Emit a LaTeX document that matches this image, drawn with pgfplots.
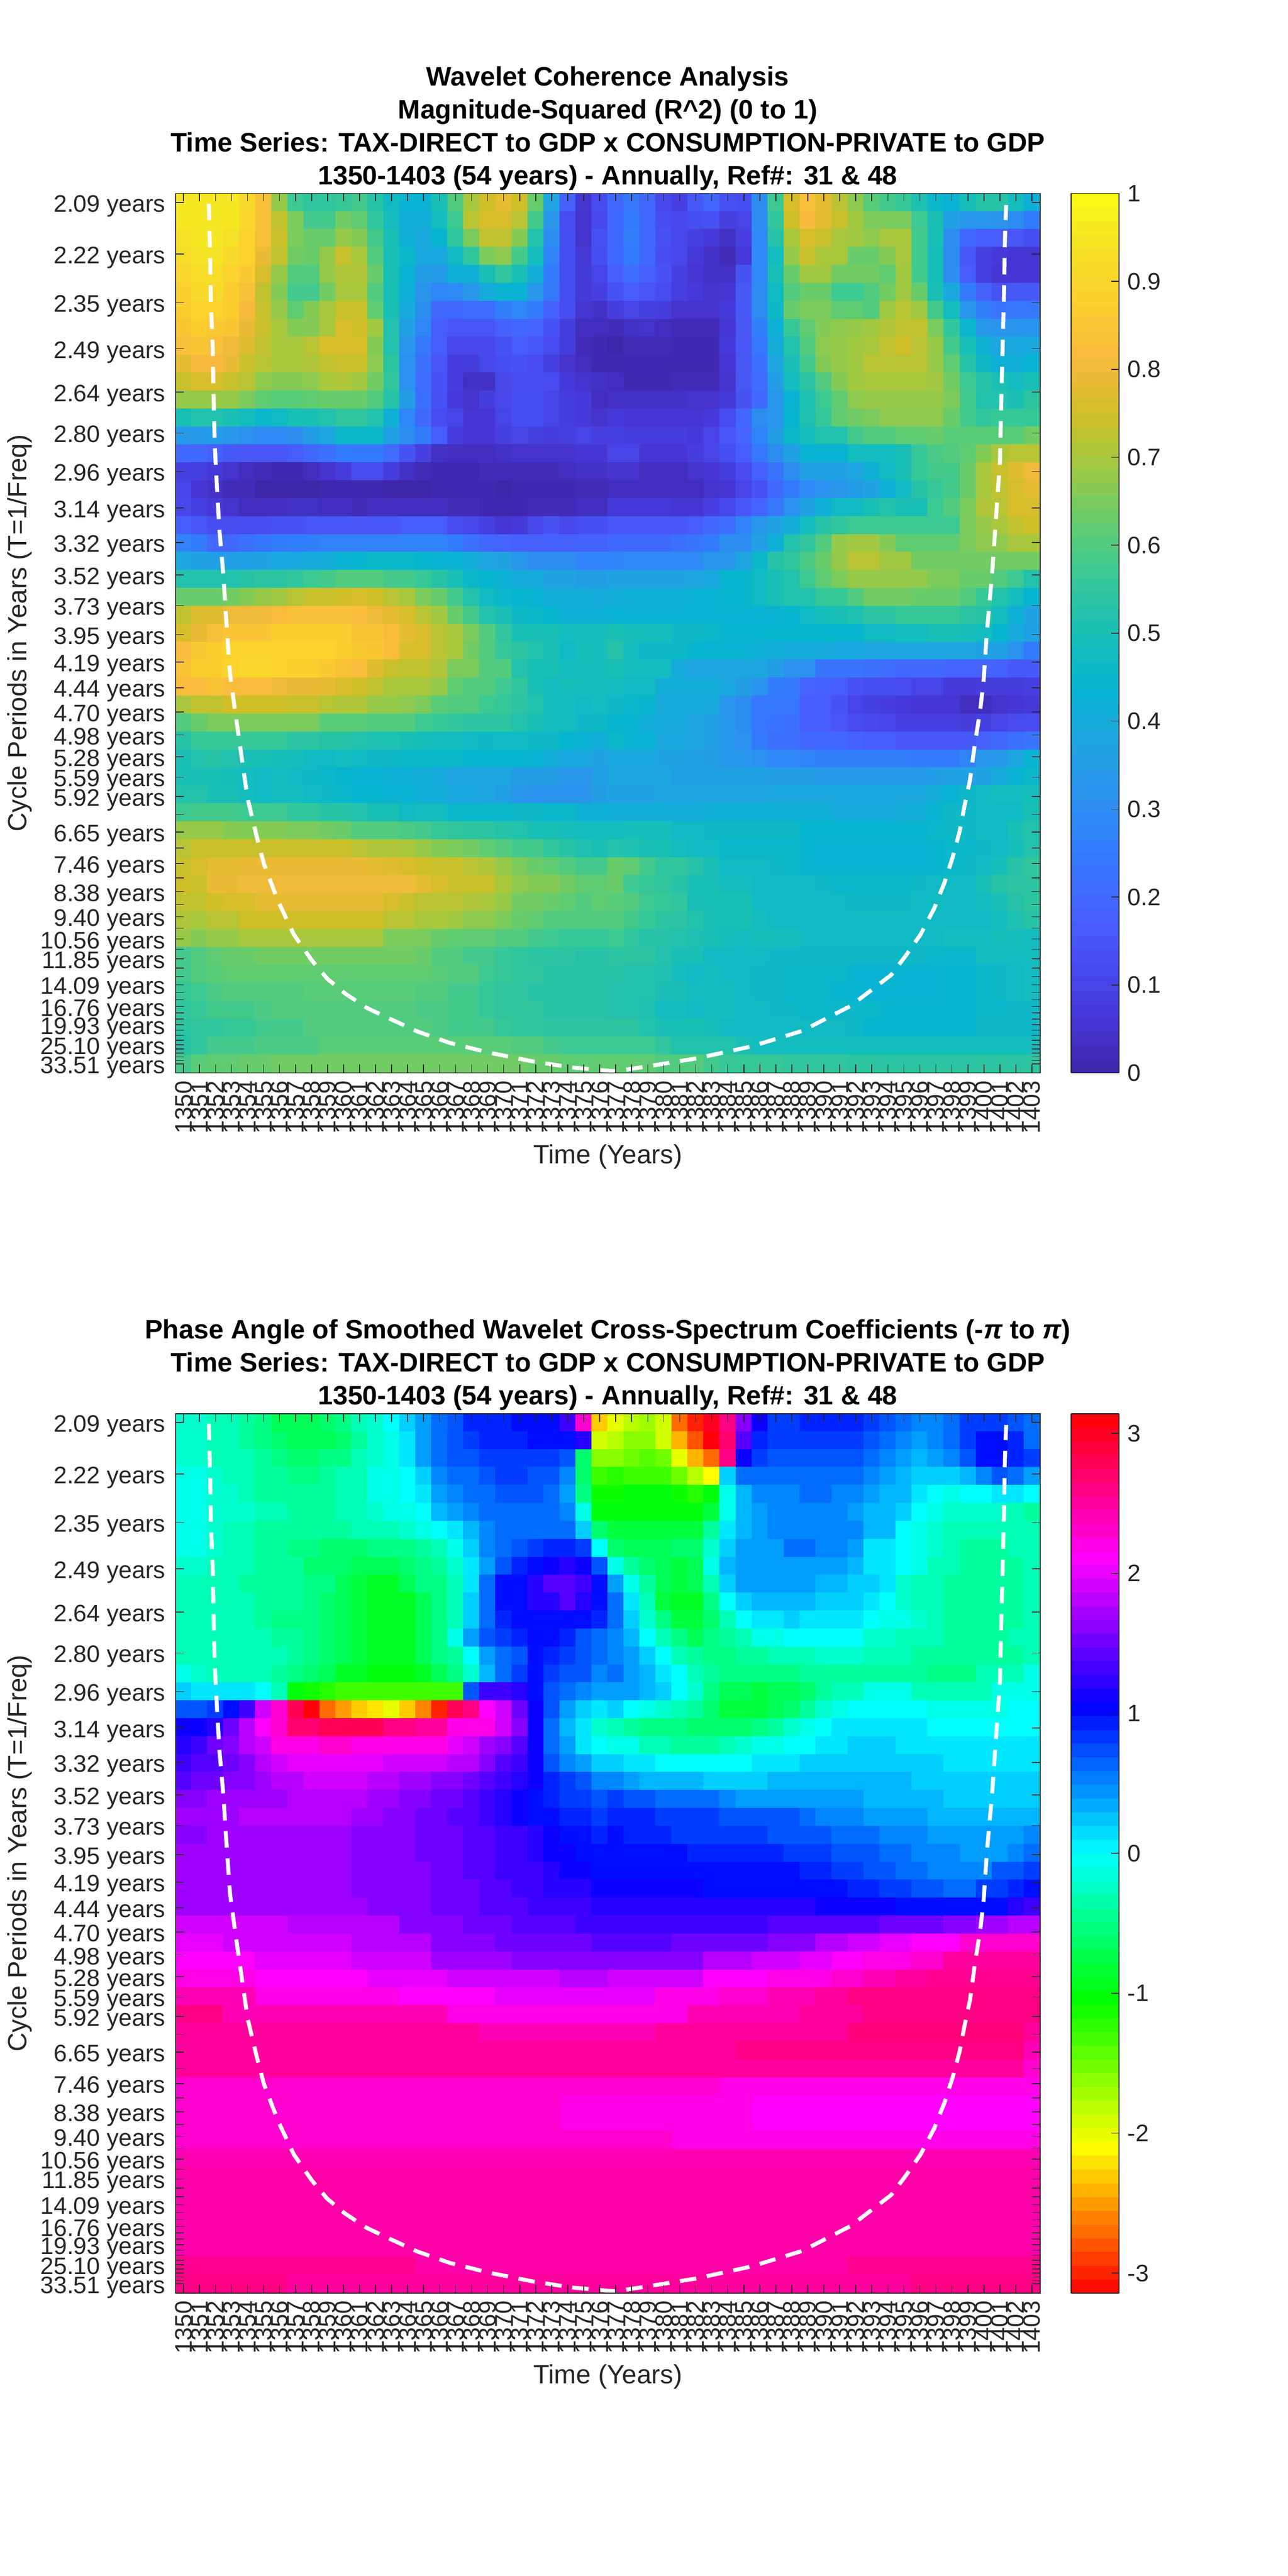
\documentclass[border=0pt]{standalone}
\usepackage{pgfplots}
\pgfplotsset{compat=1.18}
\usepackage{fontspec}
\setmainfont{Liberation Sans}
\definecolor{axc}{gray}{0.15}
\pgfplotsset{
 colormap={parulam}{rgb=(.2422,.1504,.6603) rgb=(.2706,.2147,.8364) rgb=(.2813,.3006,.9414) rgb=(.2699,.3892,.9906) rgb=(.1963,.4847,.9892) rgb=(.1687,.5703,.9359) rgb=(.1248,.6459,.8883) rgb=(.0297,.7082,.8163) rgb=(.0964,.75,.712) rgb=(.2161,.7843,.5923) rgb=(.3909,.8029,.4354) rgb=(.6174,.7876,.2612) rgb=(.8203,.7498,.1535) rgb=(.9728,.7298,.2394) rgb=(.9892,.8086,.1816) rgb=(.96,.89,.15) rgb=(.9769,.9839,.0805)},
 colormap={hsvm}{rgb=(1,0,0) rgb=(1,1,0) rgb=(0,1,0) rgb=(0,1,1) rgb=(0,0,1) rgb=(1,0,1) rgb=(1,0,0)},
 wave/.style={
  scale only axis,width=524.5pt,height=533.6pt,
  xmin=1349.5,xmax=1403.5,ymin=0.02518,ymax=0.48212,
  enlargelimits=false,axis on top,
  axis line style={axc,line width=0.6pt},
  tick style={axc,line width=0.5pt},
  major tick length=5pt,tick align=inside,
  xtick={1350,1351,...,1403},
  ytick={0.47746,0.45066,0.42537,0.40150,0.37896,0.35769,0.33762,0.31867,0.30078,0.28390,0.26797,0.25293,0.23873,0.22533,0.21268,0.20075,0.18948,0.17885,0.16881,0.15933,0.15039,0.14195,0.13398,0.12646,0.11937,0.11266,0.10634,0.10037,0.09474,0.08942,0.08441,0.07967,0.07520,0.07098,0.06699,0.06323,0.05968,0.05633,0.05317,0.05019,0.04737,0.04471,0.04220,0.03983,0.03760,0.03549,0.03350,0.03162,0.02984},
  yticklabels={2.09 years,2.22 years,2.35 years,2.49 years,2.64 years,2.80 years,2.96 years,3.14 years,3.32 years,3.52 years,3.73 years,3.95 years,4.19 years,4.44 years,4.70 years,4.98 years,5.28 years,5.59 years,5.92 years,{},6.65 years,{},7.46 years,{},8.38 years,{},9.40 years,{},10.56 years,{},11.85 years,{},{},14.09 years,{},{},16.76 years,{},{},19.93 years,{},{},{},25.10 years,{},{},{},{},33.51 years},
  tick label style={font=\fontsize{14.5}{14.5}\selectfont,text=axc},
  y tick label style={inner sep=0pt,xshift=-6pt,yshift=-2.2pt},
  x tick label style={rotate=90,anchor=east,inner sep=0pt,yshift=0pt,xshift=-4.5pt,/pgf/number format/1000 sep={},/pgf/number format/assume math mode=true},
  xlabel={Time (Years)},ylabel={Cycle Periods in Years (T=1/Freq)},
  label style={font=\fontsize{16}{16}\selectfont,text=axc},
  xlabel style={at={(axis description cs:0.5,-0.0955)},anchor=center},
  ylabel style={at={(axis description cs:-0.18,0.5)},anchor=center},
  title style={align=center,font=\bfseries\fontsize{16.2}{20}\selectfont,at={(axis description cs:0.5,1)},anchor=south,yshift=-7.5pt},
  colorbar sampled,
 },
 cb/.style={colorbar style={at={(1.0362,0)},anchor=south west,scale only axis,width=29pt,height=533.6pt,samples=65,
   axis line style={axc,line width=0.6pt},tick style={axc,line width=0.5pt},major tick length=4.6pt,tick align=inside,
   ytick pos=right,yticklabel pos=right,
   tick label style={font=\fontsize{14.5}{14.5}\selectfont,text=axc},
   y tick label style={inner sep=0pt,xshift=5pt}}},
}
\newcount\colc
\newcount\rowc
\gdef\accum{}
\newcommand\rowstart{\pgfmathparse{0.47746-\the\rowc*0.0093254}\xdef\ycur{\pgfmathresult}\global\colc=1350 \gdef\rowaccum{}}
\newcommand\addcell[1]{\xdef\rowaccum{\rowaccum (\the\colc,\ycur) [#1] }\global\advance\colc 1 }
\newcommand\rowfinish{\xdef\accum{\accum\rowaccum}\global\advance\rowc 1 }
\newcommand\DR[1]{\rowstart\foreach\vv in {#1}{\addcell{\vv}}\rowfinish}
\newcommand\DRL[1]{\rowstart\foreach\vv/\nn in {#1}{\foreach\ii in {1,...,\nn}{\addcell{\vv}}}\rowfinish}
% coherence (R^2, in hundredths), top row first
\DR{95,95,95,95,91,83,68,57,55,55,56,58,53,47,43,43,50,60,70,75,78,75,63,38,18,6,12,20,24,20,11,9,16,20,14,13,30,57,76,83,78,72,67,61,58,56,51,45,43,49,53,53,48,42}
\DR{95,95,95,95,90,83,73,65,58,58,64,62,55,48,41,41,48,57,72,76,76,72,58,33,12,5,11,20,25,20,13,11,13,14,9,10,30,55,75,81,78,74,69,65,65,65,57,50,36,33,33,32,30,25}
\DR{93,95,95,93,89,83,74,65,63,63,68,66,58,50,42,39,44,55,65,73,73,66,52,30,13,5,14,20,26,20,14,11,9,7,4,9,29,53,70,76,74,70,69,67,70,70,58,50,30,20,17,17,15,13}
\DR{92,94,94,91,89,79,73,64,63,68,74,70,60,50,45,39,39,47,55,65,67,58,48,27,13,7,13,20,25,20,13,11,7,4,2,7,29,48,68,74,70,70,63,63,66,70,58,49,30,16,9,7,6,6}
\DR{90,92,92,89,86,76,68,60,60,68,71,71,63,50,43,35,34,42,42,50,55,50,41,25,13,7,10,17,21,18,14,9,6,4,4,14,29,50,63,69,69,64,64,64,62,69,58,49,30,17,9,6,6,6}
\DR{88,91,91,87,83,73,66,58,58,64,70,70,60,50,42,32,28,29,33,40,43,43,33,24,13,7,9,14,17,15,12,9,7,5,6,16,30,47,60,63,63,57,57,60,64,69,63,50,39,25,18,14,16,16}
\DR{87,89,89,87,81,74,68,62,66,70,74,74,62,50,40,30,20,20,21,21,26,28,25,18,13,6,4,8,10,9,8,5,5,5,7,16,30,46,63,65,65,62,62,60,69,72,69,58,48,33,26,23,24,24}
\DR{85,87,86,85,79,74,70,66,66,70,76,75,69,52,36,28,17,15,15,15,18,20,19,14,8,3,3,2,4,5,3,2,2,2,6,15,26,42,56,62,66,67,68,69,71,73,73,65,55,45,33,32,32,32}
\DR{83,85,83,80,77,73,70,70,72,76,76,76,66,52,33,24,17,11,11,11,14,17,16,12,8,2,1,0,2,2,2,1,1,1,7,15,24,41,52,60,67,68,69,70,73,75,72,68,58,50,42,38,39,39}
\DR{78,81,81,79,74,72,70,70,71,73,74,74,67,54,31,22,15,8,8,11,13,14,12,9,5,3,1,1,1,1,1,1,1,1,6,15,22,38,50,58,66,68,69,72,72,72,72,68,62,53,46,42,41,43}
\DR{74,76,76,74,72,67,66,66,67,70,71,69,64,55,31,21,14,8,4,4,11,12,12,12,7,5,4,3,1,1,1,2,2,2,5,15,21,35,48,54,60,66,69,70,70,70,70,69,64,57,53,50,48,50}
\DR{68,68,68,68,65,62,61,61,62,63,63,63,60,53,35,22,14,7,5,8,11,13,13,10,8,7,3,4,4,4,4,4,5,5,7,14,20,33,43,51,57,62,67,68,68,68,68,68,65,58,52,52,50,54}
\DR{50,52,52,50,48,45,47,50,50,52,55,55,52,42,28,20,12,10,6,6,10,13,13,10,8,7,5,7,6,6,6,6,6,7,12,20,30,33,44,51,56,62,64,65,67,67,67,67,63,58,55,56,56,56}
\DR{34,34,35,33,31,29,29,30,35,38,45,45,45,36,30,25,17,8,6,6,9,10,9,8,9,10,9,9,8,8,8,8,7,10,15,19,27,35,45,49,52,52,58,60,60,62,62,63,61,61,61,61,61,64}
\DR{20,20,18,16,15,15,15,17,20,22,25,25,25,21,14,9,4,3,3,3,4,5,5,5,5,6,6,10,10,6,6,6,8,10,13,17,24,30,36,43,43,43,48,48,48,50,56,59,60,62,66,70,72,72}
\DR{9,9,7,5,3,2,1,1,3,5,8,12,12,8,4,2,1,1,1,2,2,2,2,2,3,4,4,5,5,3,3,3,5,6,8,12,18,23,30,36,36,36,38,42,47,50,56,58,58,63,70,74,77,80}
\DR{10,6,4,2,2,0,0,0,0,1,1,1,1,0,0,0,1,1,1,1,0,1,1,1,1,2,2,3,3,3,3,3,3,5,6,10,14,20,25,29,31,33,35,37,42,47,53,56,58,63,70,73,76,78}
\DR{11,9,7,5,3,3,3,4,4,3,3,2,3,3,3,3,3,2,2,1,1,1,2,2,2,3,3,7,7,7,7,6,6,9,11,15,19,24,31,37,42,47,47,50,52,50,50,57,60,65,71,72,76,76}
\DR{17,15,13,12,12,12,14,14,15,15,15,15,15,15,17,17,17,12,11,9,6,7,11,14,11,13,13,15,15,15,15,15,17,20,21,27,33,37,41,48,53,55,57,57,57,57,57,57,57,65,68,70,73,75}
\DR{27,25,20,20,22,24,25,26,26,27,27,27,27,27,27,27,27,25,22,20,19,18,18,18,18,18,18,20,20,20,20,22,23,25,30,30,36,42,52,55,60,68,69,69,66,62,62,62,62,65,67,67,70,70}
\DR{38,37,36,36,36,37,39,39,40,41,43,44,45,45,45,44,43,43,41,38,37,33,30,30,30,27,27,27,29,29,29,29,29,33,33,38,45,53,55,59,63,68,72,72,69,69,64,64,64,64,64,64,64,64}
\DR{52,52,52,52,53,54,54,55,57,58,60,60,60,58,58,56,53,50,45,44,42,40,40,37,37,35,35,37,37,37,37,37,38,39,44,44,47,50,52,57,62,65,68,68,68,68,68,65,65,63,63,60,57,52}
\DR{63,63,63,64,66,68,69,72,74,74,75,76,75,72,70,65,63,58,52,47,45,44,43,41,41,41,40,41,42,42,42,42,43,43,44,44,47,50,52,52,56,56,60,64,64,64,63,63,63,60,56,52,48,44}
\DR{73,77,77,80,80,80,82,83,83,83,83,82,80,78,76,72,69,63,58,52,50,46,45,44,42,42,42,43,43,43,43,43,43,43,43,43,43,43,44,47,49,50,51,54,54,56,56,56,56,54,53,48,42,37}
\DR{76,79,83,85,85,85,87,87,87,87,87,84,84,82,78,76,72,70,65,60,55,50,50,50,48,49,49,50,49,49,49,46,46,45,44,44,44,44,44,44,44,44,44,47,47,48,48,50,50,49,48,44,40,36}
\DR{82,86,87,89,89,89,89,89,89,89,87,86,85,82,76,76,72,70,64,60,56,54,52,50,47,49,49,53,48,46,46,46,44,43,43,43,42,41,40,40,40,39,39,38,38,38,38,38,38,38,36,36,31,25}
\DR{84,87,87,89,90,90,89,88,88,86,84,82,77,74,73,73,71,65,65,60,60,52,50,50,48,49,49,50,48,48,48,40,38,38,38,38,38,35,31,31,23,23,23,22,21,20,20,20,19,19,19,18,16,16}
\DR{82,82,84,82,82,82,80,79,79,78,76,75,73,70,70,70,68,62,60,60,57,55,50,48,49,49,49,48,47,47,41,41,41,41,39,35,32,25,24,19,18,17,14,13,13,12,10,10,7,7,8,8,8,9}
\DR{70,73,73,75,75,75,75,74,74,72,71,71,68,68,67,65,61,60,60,57,56,54,52,48,48,47,48,46,45,44,40,40,40,40,33,30,24,24,24,17,17,14,10,9,8,7,6,6,6,3,3,5,6,7}
\DR{60,63,65,65,65,65,65,65,65,61,61,61,60,60,60,57,56,55,54,54,54,52,50,48,48,46,46,44,44,41,40,40,38,36,33,30,24,23,22,17,17,15,12,11,10,9,9,9,9,8,9,10,12,12}
\DR{53,56,56,56,56,56,56,54,54,53,53,52,51,51,50,49,48,48,47,46,47,47,46,46,44,43,41,45,43,43,39,39,38,36,33,31,25,22,22,20,20,20,18,17,17,15,15,15,15,16,18,20,22,23}
\DR{50,52,53,52,50,50,49,49,47,47,48,47,46,46,45,45,45,45,44,44,44,44,43,41,39,39,37,39,39,39,37,37,36,35,33,33,31,28,28,27,26,26,26,26,26,26,25,25,25,27,33,34,38,43}
\DR{50,50,50,49,48,47,48,47,46,45,44,43,43,42,42,41,40,38,38,38,38,35,35,35,33,33,36,38,38,38,38,36,36,36,36,36,36,35,35,35,34,34,34,34,34,34,34,35,36,36,37,40,43,45}
\DR{52,52,50,50,48,47,48,48,47,46,45,44,44,43,43,41,41,39,39,38,36,33,32,32,32,32,35,37,37,37,38,38,38,38,38,38,38,39,39,39,39,39,39,39,39,39,39,41,43,46,47,48,48,49}
\DR{57,58,58,58,57,57,57,55,55,53,53,52,50,50,47,48,48,45,45,45,45,46,46,45,45,42,42,41,41,41,41,41,41,42,42,42,42,42,42,42,42,40,40,40,40,41,41,44,46,46,47,47,47,50}
\DR{68,68,68,66,66,66,66,65,65,64,63,60,60,60,59,58,56,55,54,54,53,52,50,50,49,48,48,48,49,49,49,47,47,46,46,46,46,46,46,44,44,44,44,44,44,44,44,45,46,46,47,47,50,52}
\DR{72,74,74,74,74,74,74,74,74,74,74,72,71,71,70,68,66,65,64,62,60,58,58,55,53,51,50,52,51,50,50,48,47,47,45,45,45,45,45,44,43,43,43,43,43,43,43,44,45,45,46,47,49,52}
\DR{74,76,78,78,79,79,79,79,79,79,79,79,78,77,76,75,74,74,72,71,68,65,63,62,60,58,58,63,62,58,55,55,53,50,47,47,47,46,45,43,43,43,43,43,43,43,43,44,45,46,47,49,53,55}
\DR{75,74,79,79,80,80,80,80,80,80,80,80,80,80,80,78,76,74,74,74,70,67,66,66,64,62,62,63,57,56,55,53,50,50,48,48,47,47,47,47,46,45,45,45,45,45,46,47,47,47,50,53,54,54}
\DR{73,73,75,76,76,78,78,78,78,78,78,78,78,76,74,72,72,72,71,70,68,64,64,63,62,60,62,61,60,57,56,55,50,50,50,50,47,47,47,47,47,47,46,46,46,46,47,47,47,47,48,50,53,54}
\DR{71,70,72,72,75,75,75,75,75,75,75,75,75,72,72,70,70,69,67,67,65,63,62,60,60,60,60,60,58,56,54,54,52,50,50,50,48,47,47,47,47,47,47,47,47,47,47,47,47,47,47,48,51,53}
\DR{68,66,68,68,70,70,70,70,70,70,70,70,70,65,65,65,63,62,62,62,60,60,58,57,56,56,56,57,55,53,53,52,51,50,49,48,49,49,49,47,47,47,47,47,47,47,47,47,48,48,48,49,49,48}
\DR{58,60,62,63,63,64,64,64,64,64,64,64,64,64,64,63,60,60,58,58,56,55,54,54,54,53,53,54,54,54,52,50,50,47,47,47,47,46,46,46,46,46,46,46,46,46,46,45,45,45,48,48,48,48}
\DR{58,60,61,62,62,62,62,62,62,62,62,62,62,62,62,62,61,60,60,57,56,55,55,53,53,53,53,53,52,52,51,48,47,48,47,47,46,46,45,45,45,45,43,43,43,43,43,43,44,44,45,46,47,48}
\DR{56,57,59,60,60,60,60,60,61,61,61,61,61,61,61,60,60,58,58,56,55,55,53,53,53,53,53,52,52,52,50,50,48,48,48,47,46,46,45,45,45,44,43,43,43,43,43,43,44,44,45,46,47,48}
\DR{55,56,58,58,58,59,60,60,60,60,60,60,60,60,60,59,59,58,58,56,55,55,55,53,53,53,53,52,52,51,48,48,47,48,48,47,47,46,46,45,45,45,45,45,44,44,44,44,44,44,45,45,46,46}
\DR{54,55,55,56,56,58,58,58,60,60,60,60,60,60,60,60,59,58,58,58,56,55,55,54,54,54,54,54,54,52,50,50,50,49,47,47,47,47,47,47,47,47,46,44,44,44,44,44,44,44,46,46,46,46}
\DR{53,55,58,58,58,59,59,59,59,61,61,61,61,61,61,61,61,61,61,61,61,60,60,58,57,57,57,57,57,57,55,52,52,52,52,50,48,48,48,48,48,48,48,48,48,48,48,48,48,48,48,48,48,48}
\DR{58,61,62,62,63,63,64,64,64,64,64,64,64,64,64,64,64,64,64,64,64,64,63,63,62,62,62,62,62,62,60,60,60,58,56,56,56,56,55,55,55,55,54,54,54,54,54,54,54,54,54,54,54,54}
\global\let\accumtop\accum
\gdef\accum{}\global\rowc=0
% phase (radians, in tenths), top row first
\DR{-2,-2,-3,-3,-4,-5,-7,-7,-7,-6,-5,-3,-2,0,2,4,6,7,9,9,9,10,10,10,13,23,-23,-20,-18,-17,-19,-27,-30,30,26,16,11,8,8,9,9,9,9,8,7,6,5,5,6,8,8,8,7,6}
\DR{-2,-2,-3,-3,-4,-5,-6,-7,-7,-7,-6,-4,-2,-1,1,4,6,7,8,9,9,9,10,10,10,12,-19,-18,-16,-16,-19,-24,-28,31,27,14,9,8,8,8,8,8,8,7,6,5,4,5,6,8,10,10,9,6}
\DR{-2,-2,-3,-3,-3,-4,-5,-6,-6,-5,-5,-3,-2,-1,1,4,6,7,7,8,8,8,8,8,7,-6,-16,-16,-15,-14,-15,-20,-24,-27,26,11,8,7,7,7,7,7,7,6,5,4,3,4,5,7,10,10,9,8}
\DR{-1,-1,-2,-3,-3,-4,-4,-5,-5,-4,-3,-3,-1,-1,0,2,5,6,6,7,8,8,7,7,5,-6,-13,-12,-13,-13,-13,-15,-18,-21,2,6,6,6,6,6,6,6,6,5,4,3,2,2,2,3,5,7,6,4}
\DR{-1,-1,-2,-2,-3,-4,-4,-4,-4,-4,-3,-3,-1,-1,0,1,4,5,6,6,7,7,7,6,4,-5,-11,-11,-10,-10,-10,-11,-12,-10,-1,3,5,5,5,6,6,5,5,4,3,3,1,0,-1,0,0,1,1,0}
\DR{-1,-1,-2,-2,-2,-3,-3,-4,-4,-4,-3,-3,-2,-1,-1,0,3,4,5,6,6,6,6,6,5,-1,-10,-10,-10,-10,-10,-10,-10,-8,-1,3,4,5,5,5,5,5,4,3,3,2,0,-1,-2,-2,-2,-2,-3,-4}
\DR{-1,-1,-2,-3,-3,-4,-4,-4,-4,-4,-4,-3,-3,-3,-2,-1,0,1,3,5,6,6,6,6,6,2,-6,-8,-8,-8,-8,-8,-8,-4,1,3,4,5,5,5,5,5,5,3,3,0,-1,-2,-3,-3,-3,-3,-3,-3}
\DR{-1,-1,-2,-3,-3,-4,-4,-5,-5,-6,-6,-6,-5,-5,-5,-4,-3,-1,2,5,6,7,8,9,9,8,0,-6,-7,-7,-7,-6,-6,-2,2,4,4,4,6,6,5,5,4,1,1,0,-1,-2,-3,-4,-4,-4,-3,-3}
\DR{-2,-2,-3,-3,-3,-4,-4,-4,-6,-6,-6,-7,-7,-7,-6,-5,-4,-2,1,4,7,9,10,11,12,11,7,-1,-4,-6,-7,-8,-7,-1,3,4,4,4,4,4,4,4,3,1,1,0,-1,-3,-3,-4,-4,-4,-4,-3}
\DR{-3,-3,-3,-3,-4,-4,-4,-4,-5,-5,-7,-8,-9,-9,-7,-5,-5,-3,1,6,10,10,12,14,14,13,10,4,-1,-4,-7,-8,-7,-3,2,4,4,4,4,4,3,3,2,2,1,-2,-3,-3,-4,-4,-4,-4,-4,-3}
\DR{-3,-3,-3,-3,-3,-4,-4,-4,-5,-6,-7,-8,-9,-9,-9,-7,-5,-3,2,6,10,10,12,12,14,12,10,6,1,-3,-8,-9,-9,-5,0,2,3,3,3,3,2,2,2,1,0,-2,-3,-3,-4,-4,-4,-4,-4,-3}
\DR{-3,-3,-3,-3,-3,-4,-5,-5,-5,-6,-7,-8,-9,-9,-9,-7,-5,-3,2,6,9,10,10,10,10,10,9,6,2,-2,-5,-8,-8,-6,-3,0,1,1,2,1,1,1,1,0,-1,-1,-2,-3,-4,-4,-4,-4,-4,-3}
\DR{-3,-3,-3,-3,-3,-3,-4,-4,-5,-6,-7,-8,-9,-9,-9,-7,-5,-1,4,7,8,9,10,10,9,7,6,5,3,0,-3,-5,-7,-5,-4,-3,-1,-1,0,0,0,0,0,-2,-2,-3,-3,-3,-4,-4,-4,-4,-3,-3}
\DR{-3,-3,-3,-3,-3,-3,-3,-4,-5,-6,-7,-8,-9,-9,-9,-7,-5,-4,0,4,6,7,10,9,8,7,6,5,4,2,0,-3,-4,-5,-5,-4,-4,-3,-3,-3,-2,-2,-2,-3,-3,-3,-4,-4,-4,-4,-4,-4,-4,-3}
\DR{-1,-2,-3,-3,-3,-3,-4,-5,-6,-7,-9,-9,-10,-10,-10,-9,-7,-5,-2,3,6,8,10,8,7,7,5,6,4,3,1,0,-3,-4,-5,-5,-5,-5,-5,-4,-4,-4,-4,-4,-4,-4,-4,-5,-5,-5,-3,-3,-3,-1}
\DR{2,1,1,1,1,0,-3,-10,-11,-12,-13,-13,-13,-13,-13,-13,-13,-13,7,13,13,12,10,7,6,5,4,4,4,3,2,0,-2,-5,-7,-7,-8,-7,-7,-6,-4,-3,-3,-1,-1,-1,-3,-3,-3,-3,-3,-1,-1,-1}
\DR{7,7,8,10,13,19,23,28,31,-27,-25,-23,-22,-20,-23,-26,-30,28,26,21,19,15,11,7,4,2,1,2,0,-1,-2,-3,-4,-6,-8,-8,-8,-7,-6,-4,-2,-1,0,0,0,0,0,-1,-1,-1,-1,-1,0,0}
\DR{11,11,12,15,18,21,23,27,27,28,28,28,28,26,26,25,25,22,22,22,19,16,11,6,3,1,-2,-3,-4,-5,-5,-5,-6,-6,-6,-6,-5,-4,-2,-1,0,1,1,1,1,1,1,0,0,0,0,0,0,0}
\DR{12,13,15,16,18,19,22,22,22,23,23,22,22,22,22,22,22,20,19,17,16,14,11,6,4,1,0,-1,-1,-3,-3,-4,-4,-4,-3,-2,-1,-1,0,0,1,1,2,2,2,1,1,1,1,1,1,1,1,1}
\DR{13,14,14,15,16,18,19,20,20,20,20,20,20,19,19,19,19,18,18,16,14,13,11,7,5,4,2,2,1,1,0,0,0,0,0,0,1,1,1,2,2,2,2,2,2,2,2,2,1,1,1,1,1,1}
\DR{14,15,15,16,16,17,18,18,19,19,19,19,18,18,17,17,16,16,15,14,13,12,11,9,8,7,5,5,4,3,3,3,3,2,2,2,2,3,3,3,3,3,3,3,3,3,2,2,2,2,2,2,2,2}
\DR{16,16,17,17,17,17,17,18,18,18,18,18,17,17,16,16,15,15,14,13,12,11,10,9,8,8,7,8,7,7,6,6,6,6,5,4,4,4,4,4,4,4,4,3,3,3,3,3,2,2,2,2,2,2}
\DR{17,17,17,17,18,18,18,18,18,18,18,17,17,16,16,15,15,14,14,13,12,11,10,10,9,9,8,9,9,9,8,8,8,8,7,7,7,7,7,6,5,5,5,4,4,4,4,3,3,3,3,3,3,3}
\DR{16,16,17,17,17,17,17,17,17,17,17,16,16,16,16,15,15,15,14,14,13,13,12,11,10,10,9,10,9,9,9,8,8,8,8,8,8,7,7,7,7,6,6,6,5,5,5,4,4,4,4,4,4,5}
\DRL{17/11,16/4,15/3,14/2,13/2,12/1,11/2,10/2,10/5,9/6,8/3,7/3,6/2,5/3,4/3,5/1,6/1}
\DRL{17/11,16/5,15/2,14/2,13/3,12/1,11/2,10/1,10/12,9/2,8/2,7/2,6/2,5/4,7/2,8/1}
\DRL{17/11,16/5,15/3,14/2,13/2,12/3,11/1,11/6,10/9,9/2,8/2,7/2,6/2,8/2,9/1,10/1}
\DRL{17/12,16/4,15/3,14/3,13/4,12/1,12/13,11/5,10/7,12/1,13/1}
\DRL{19/7,18/7,16/4,15/3,14/4,13/2,13/10,14/7,15/4,16/2,17/2,18/2}
\DRL{20/3,19/8,18/5,16/4,15/6,14/1,14/4,15/6,16/3,18/2,19/2,20/2,21/3,23/5}
\DRL{21/5,20/6,19/5,17/5,16/6,16/6,18/3,19/3,20/2,21/2,22/3,23/2,25/6}
\DRL{22/5,21/7,20/5,19/7,18/3,19/6,21/4,22/4,23/2,24/2,25/2,25.5/7}
\DRL{24/5,22/9,21/6,20/7,20/3,22/4,23/3,24/3,25/2,26/3,26/9}
\DRL{26/3,24/14,22/10,22/5,24/4,24/3,25/4,26/11}
\DRL{25/19,24/8,24/3,25/6,25/6,26.5/11,25/1}
\DRL{25/27,25/8,26/18,24/1}
\DRL{25/27,25/26,23/1}
\DRL{23/27,23/7,22/20}
\DRL{23/24,22/3,22/9,21/18}
\DRL{23/24,22/3,22/9,21/18}
\DRL{23/27,23/4,22/23}
\DRL{24/54}
\DRL{24.5/54}
\DRL{24.5/54}
\DRL{24.5/54}
\DRL{24.5/54}
\DRL{24.5/54}
\DRL{25.5/15,24.5/12,24.5/15,25.5/12}
\DRL{26/7,25/20,25/19,26/8}
\global\let\accumbot\accum
\newcommand\coiline{(1351.58,.4768)(1351.66,.4507)(1351.71,.4250)(1351.82,.4025)(1351.89,.3725)(1351.96,.3499)(1352.10,.3274)(1352.25,.3064)(1352.49,.2839)(1352.64,.2642)(1352.90,.2328)(1353.18,.2157)(1353.57,.1928)(1354.0,.1679)(1354.55,.1487)(1355.03,.1335)(1355.91,.1144)(1356.89,.0971)(1358.0,.0838)(1358.97,.0742)(1360.08,.0665)(1361.44,.0590)(1362.91,.0532)(1364.64,.0466)(1366.62,.0408)(1369.09,.0357)(1371.79,.0312)(1374.26,.0280)(1376.96,.0260)(1378.84,.0284)(1382.04,.0327)(1385.46,.0389)(1388.65,.0470)(1391.66,.0599)(1394.21,.0761)(1395.16,.0866)(1396.04,.0971)(1396.89,.1106)(1397.53,.1239)(1398.05,.1373)(1398.48,.1506)(1398.79,.1641)(1399.13,.1774)(1399.44,.1964)(1399.77,.2138)(1399.98,.2289)(1400.18,.2538)(1400.52,.2854)(1400.72,.3094)(1400.82,.3214)(1401.0,.3424)(1401.08,.3725)(1401.18,.4055)(1401.26,.4325)(1401.31,.4581)(1401.39,.4761)}
\begin{document}
\begin{tikzpicture}
\path[use as bounding box] (0,0) rectangle (781.25pt,1563pt);
\begin{axis}[wave,cb,at={(106.5pt,912pt)},anchor=south west,
 colormap name=parulam,point meta min=0,point meta max=100,
 colorbar style={ytick={0,10,20,30,40,50,60,70,80,90,100},yticklabels={0,0.1,0.2,0.3,0.4,0.5,0.6,0.7,0.8,0.9,1}},
 title={Wavelet Coherence Analysis\\Magnitude-Squared (R\textasciicircum 2) (0 to 1)\\Time Series: TAX-DIRECT to GDP x CONSUMPTION-PRIVATE to GDP\\1350-1403 (54 years) - Annually, Ref\#: 31 \& 48}]
\edef\temp{\noexpand\addplot[matrix plot*,mesh/cols=54,point meta=explicit] coordinates {\accumtop};}\temp
\edef\temp{\noexpand\addplot[white,line width=2.4pt,dash pattern=on 10pt off 6.5pt] coordinates {\coiline};}\temp
\end{axis}
\begin{axis}[wave,cb,at={(106.5pt,171.75pt)},anchor=south west,
 colormap name=hsvm,point meta min=-31.416,point meta max=31.416,
 colorbar style={ytick={-30,-20,-10,0,10,20,30},yticklabels={-3,-2,-1,0,1,2,3}},
 title={Phase Angle of Smoothed Wavelet Cross-Spectrum Coefficients (-{\itshape π} to {\itshape π})\\Time Series: TAX-DIRECT to GDP x CONSUMPTION-PRIVATE to GDP\\1350-1403 (54 years) - Annually, Ref\#: 31 \& 48}]
\edef\temp{\noexpand\addplot[matrix plot*,mesh/cols=54,point meta=explicit] coordinates {\accumbot};}\temp
\edef\temp{\noexpand\addplot[white,line width=2.4pt,dash pattern=on 10pt off 6.5pt] coordinates {\coiline};}\temp
\end{axis}
\end{tikzpicture}
\end{document}
